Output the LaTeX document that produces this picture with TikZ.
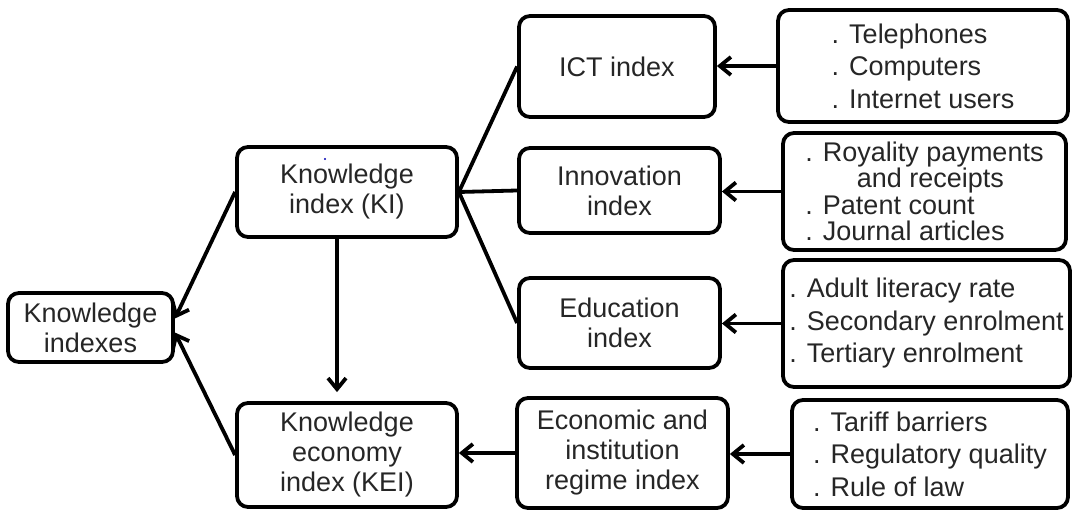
\documentclass[tikz,border=0pt]{standalone}
\usepackage{fontspec}
\setmainfont{Liberation Sans}
\usetikzlibrary{arrows.meta}

\begin{document}
\begin{tikzpicture}[x=1pt,y=-1pt,
  box/.style={draw, line width=3.8pt, rounded corners=11pt, inner sep=0pt,
    align=center, font=\fontsize{27}{30}\selectfont, text=black!85},
  listbox/.style={box, align=left, font=\fontsize{27}{32.5}\selectfont},
  link/.style={line width=3.8pt},
  arr/.style={line width=3.8pt, -{Straight Barb[length=11pt,width=18pt]}}]
\useasboundingbox (0,0) rectangle (1076,510);

% left column
\node[box, minimum width=165pt, minimum height=69pt] (kis) at (90.5,327.5) {Knowledge\\indexes};
\node[box, minimum width=220pt, minimum height=90pt] (ki) at (347,192) {Knowledge\\index (KI)};
\node[box, minimum width=220pt, minimum height=104pt] (kei) at (347,455) {Knowledge\\economy\\index (KEI)};
\fill[blue!70!black] (325,159) circle (1.2pt);

% sub-indexes
\node[box, minimum width=196pt, minimum height=101pt] (ict) at (617,66.5) {ICT index};
\node[box, minimum width=201pt, minimum height=85pt] (inn) at (619.5,190.5) {Innovation\\index};
\node[box, minimum width=201pt, minimum height=90pt] (edu) at (619.5,323) {Education\\index};
\node[box, minimum width=211pt, minimum height=110pt] (eco) at (622.5,453) {Economic and\\institution\\regime index};

% variables
\node[listbox, minimum width=290pt, minimum height=112pt] (tel) at (923,66)
  {. Telephones\\. Computers\\. Internet users};
\node[listbox, minimum width=283pt, minimum height=117pt, font=\fontsize{27}{26.5}\selectfont] (roy) at (924.5,191.5)
  {. Royality payments\\\hspace{1.9em}and receipts\\. Patent count\\. Journal articles};
\node[listbox, minimum width=287pt, minimum height=127pt] (adu) at (926.5,323.5)
  {. Adult literacy rate\\. Secondary enrolment\\. Tertiary enrolment};
\node[listbox, minimum width=276pt, minimum height=108pt] (tar) at (930,454)
  {. Tariff barriers\\. Regulatory quality\\. Rule of law};

% connectors
\draw[arr] (ki.west) -- ([yshift=9pt]kis.east);
\draw[arr] (kei.west) -- ([yshift=-5pt]kis.east);
\draw[arr, shorten >=9pt] ([xshift=-10pt]ki.south) -- ([xshift=-10pt]kei.north);
\draw[link] (ki.east) -- (ict.west);
\draw[link] (ki.east) -- (inn.west);
\draw[link] (ki.east) -- (edu.west);
\draw[arr] (tel.west) -- (tel.west -| ict.east);
\draw[arr] (roy.west) -- (roy.west -| inn.east);
\draw[arr] (adu.west) -- (adu.west -| edu.east);
\draw[arr] (tar.west) -- (tar.west -| eco.east);
\draw[arr] (eco.west) -- (eco.west -| kei.east);
\end{tikzpicture}
\end{document}
